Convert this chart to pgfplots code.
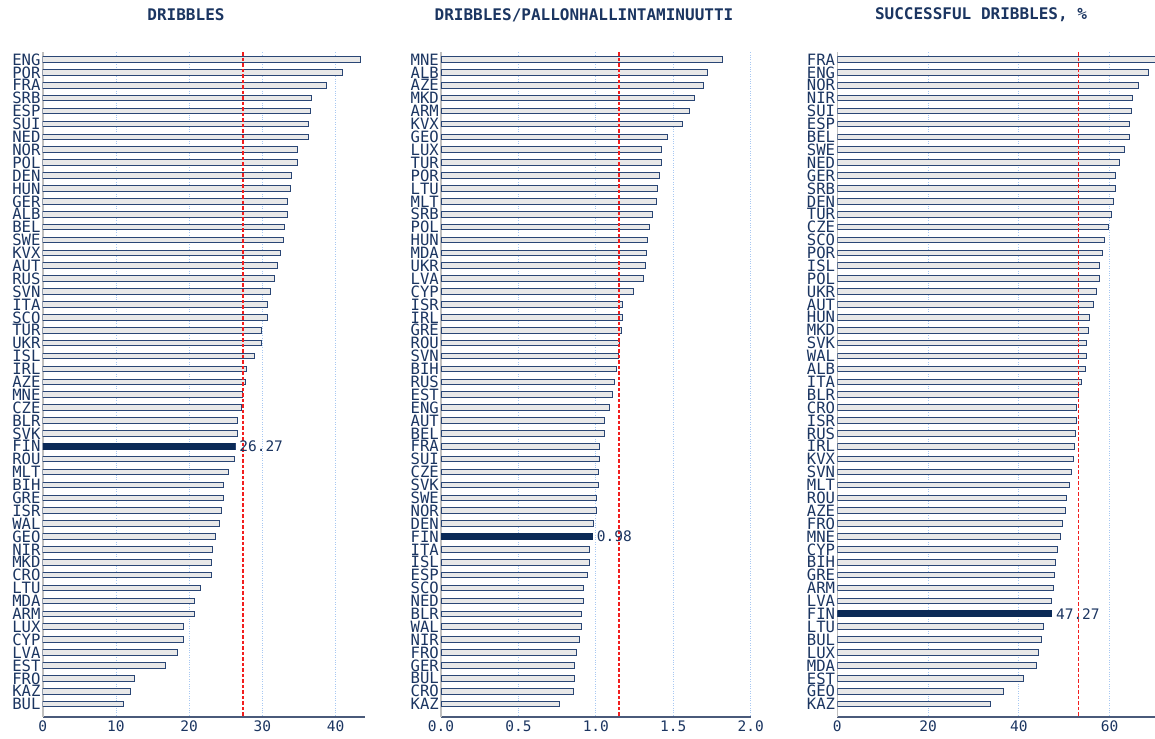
\documentclass[border=0pt]{standalone}
\usepackage{pgfplots}
\pgfplotsset{compat=1.18}
\usepackage{pgfplotstable}
\usepackage{fontspec}
\setmainfont{DejaVu Sans Mono}
\definecolor{navy}{HTML}{1B3561}
\definecolor{finbar}{HTML}{0B2A57}
\definecolor{barfill}{HTML}{E8E8E8}
\definecolor{gridblue}{HTML}{A8C8F2}
\definecolor{barline}{HTML}{2A4675}
\definecolor{axisgray}{HTML}{4A5A7A}
\definecolor{avgred}{HTML}{F21E1E}

\pgfplotstableread{
label value
ENG 43.38
POR 40.96
FRA 38.69
SRB 36.64
ESP 36.50
SUI 36.31
NED 36.27
NOR 34.77
POL 34.72
DEN 33.99
HUN 33.77
GER 33.44
ALB 33.44
BEL 33.03
SWE 32.81
KVX 32.53
AUT 32.03
RUS 31.71
SVN 31.12
ITA 30.71
SCO 30.71
TUR 29.84
UKR 29.84
ISL 28.98
IRL 27.84
AZE 27.70
MNE 27.34
CZE 27.20
BLR 26.60
SVK 26.60
FIN 26.27
ROU 26.20
MLT 25.43
BIH 24.70
GRE 24.68
ISR 24.42
WAL 24.15
GEO 23.60
NIR 23.24
MKD 23.00
CRO 23.00
LTU 21.55
MDA 20.73
ARM 20.73
LUX 19.27
CYP 19.18
LVA 18.36
EST 16.76
FRO 12.57
KAZ 11.98
BUL 11.02
}\tA

\pgfplotstableread{
label value
MNE 1.819
ALB 1.720
AZE 1.694
MKD 1.638
ARM 1.606
KVX 1.559
GEO 1.460
LUX 1.425
TUR 1.424
POR 1.408
LTU 1.397
MLT 1.391
SRB 1.367
POL 1.346
HUN 1.333
MDA 1.328
UKR 1.322
LVA 1.307
CYP 1.240
ISR 1.175
IRL 1.169
GRE 1.163
ROU 1.152
SVN 1.147
BIH 1.135
RUS 1.119
EST 1.109
ENG 1.085
AUT 1.055
BEL 1.053
FRA 1.023
SUI 1.023
CZE 1.016
SVK 1.016
SWE 1.005
NOR 1.005
DEN 0.982
FIN 0.980
ITA 0.956
ISL 0.956
ESP 0.945
SCO 0.919
NED 0.919
BLR 0.909
WAL 0.909
NIR 0.893
FRO 0.874
GER 0.865
BUL 0.861
CRO 0.857
KAZ 0.762
}\tB

\pgfplotstableread{
label value
FRA 70.30
ENG 68.53
NOR 66.47
NIR 65.15
SUI 64.78
ESP 64.41
BEL 64.41
SWE 63.31
NED 62.28
GER 61.32
SRB 61.32
DEN 60.88
TUR 60.37
CZE 59.71
SCO 58.82
POR 58.46
ISL 57.87
POL 57.79
UKR 57.06
AUT 56.54
HUN 55.59
MKD 55.37
SVK 55.00
WAL 55.00
ALB 54.71
ITA 53.82
BLR 53.16
CRO 52.79
ISR 52.72
RUS 52.43
IRL 52.21
KVX 52.06
SVN 51.69
MLT 51.25
ROU 50.51
AZE 50.29
FRO 49.71
MNE 49.12
CYP 48.53
BIH 48.01
GRE 47.79
ARM 47.65
LVA 47.28
FIN 47.27
LTU 45.37
BUL 45.07
LUX 44.34
MDA 43.90
EST 40.96
GEO 36.69
KAZ 33.75
}\tC

\pgfplotsset{
  panel/.style={
    scale only axis, height=664.7pt, anchor=south west,
    y dir=reverse, ymin=-0.56, ymax=51,
    ytick={0,...,50},
    enlargelimits=false,
    axis x line*=bottom, axis y line*=left,
    x axis line style={draw=axisgray, line width=1.2pt, -},
    y axis line style={draw=gray!50, line width=1.6pt, -},
    major tick length=0pt,
    xmajorgrids, grid style={gridblue, dotted, line width=0.9pt},
    yticklabel style={font=\fontsize{15.6}{15.6}\selectfont, text=navy, inner sep=2pt},
    xticklabel style={font=\fontsize{14.5}{14.5}\selectfont, text=navy},
    /pgf/number format/assume math mode=true,
  },
  mainbars/.style={xbar, bar width=5.6pt, bar shift=0pt, draw=barline, line width=1pt, fill=barfill},
  finbars/.style={xbar, bar width=7pt, bar shift=0pt, draw=none, fill=finbar,
    nodes near coords, point meta=explicit symbolic,
    every node near coord/.append style={anchor=west, font=\fontsize{14.5}{14.5}\selectfont, text=navy, inner sep=4pt}},
  avgline/.style={avgred, line width=1.2pt, dash pattern=on 3.5pt off 2pt},
}

\begin{document}
\begin{tikzpicture}
\useasboundingbox (0pt,0pt) rectangle (1155pt,738pt);

\node[font=\fontsize{16}{16}\selectfont\bfseries, text=navy] at (186pt,723pt) {DRIBBLES};
\node[font=\fontsize{16}{16}\selectfont\bfseries, text=navy] at (584pt,723pt) {DRIBBLES/PALLONHALLINTAMINUUTTI};
\node[font=\fontsize{16}{16}\selectfont\bfseries, text=navy] at (981pt,723pt) {SUCCESSFUL DRIBBLES, \%};

\begin{axis}[panel, at={(42.7pt,21pt)}, width=322.3pt,
  xmin=0, xmax=44, xtick={0,10,20,30,40},
  yticklabels from table={\tA}{label}]
  \addplot[mainbars] table[x=value, y expr=\coordindex] {\tA};
  \addplot[finbars] coordinates {(26.27,30) [26.27]};
  \addplot[avgline] coordinates {(27.34,-0.56) (27.34,51)};
\end{axis}

\begin{axis}[panel, at={(441pt,21pt)}, width=309.7pt,
  xmin=0, xmax=2, xtick={0,0.5,1,1.5,2},
  xticklabel style={/pgf/number format/.cd, fixed, fixed zerofill, precision=1},
  yticklabels from table={\tB}{label}]
  \addplot[mainbars] table[x=value, y expr=\coordindex] {\tB};
  \addplot[finbars] coordinates {(0.98,37) [0.98]};
  \addplot[avgline] coordinates {(1.15,-0.56) (1.15,51)};
\end{axis}

\begin{axis}[panel, at={(837.3pt,21pt)}, width=317.7pt,
  xmin=0, xmax=70, xtick={0,20,40,60},
  yticklabels from table={\tC}{label}]
  \addplot[mainbars] table[x=value, y expr=\coordindex] {\tC};
  \addplot[finbars] coordinates {(47.27,43) [47.27]};
  \addplot[avgline] coordinates {(53.16,-0.56) (53.16,51)};
\end{axis}
\end{tikzpicture}
\end{document}
